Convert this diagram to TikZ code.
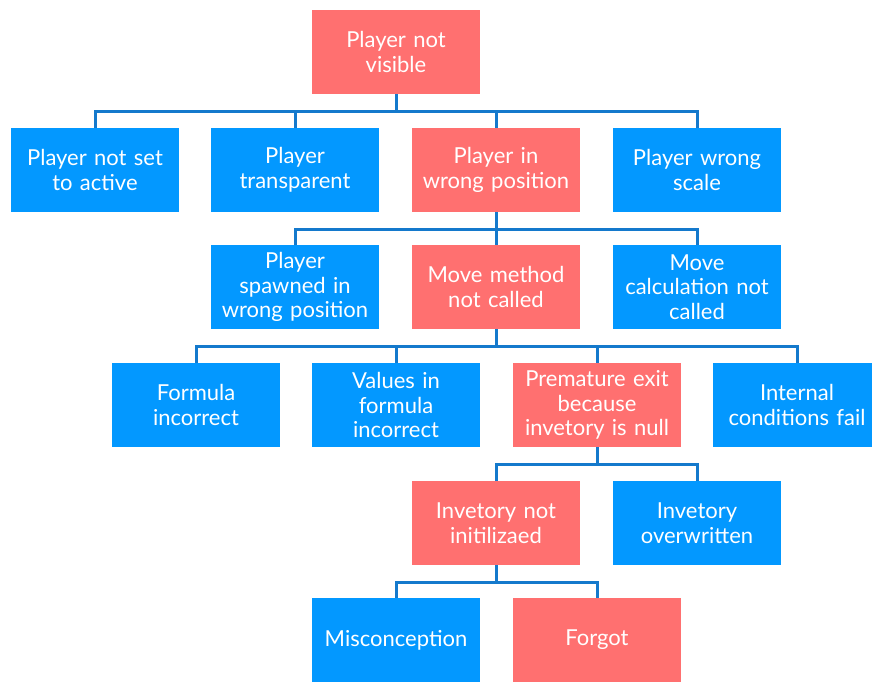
\documentclass[tikz,border=0pt]{standalone}
\usepackage{fontspec}
\setmainfont{Lato}
\definecolor{rbox}{HTML}{FF7070}
\definecolor{bbox}{HTML}{0398FF}
\definecolor{lnk}{HTML}{1479CC}
\begin{document}
\begin{tikzpicture}[x=1pt,y=-1pt,
  box/.style={minimum width=168pt,minimum height=84pt,inner sep=1pt,text width=166pt,align=center,
    font=\fontsize{22}{24.5}\selectfont,text=white},
  redbox/.style={box,fill=rbox},
  bluebox/.style={box,fill=bbox},
  link/.style={draw=lnk,line width=3pt}]
\useasboundingbox (0,0) rectangle (872,681);
\node[redbox] (a) at (396,52) {Player not\\visible};
\node[bluebox] (b1) at (95,170) {Player not set\\to active};
\node[bluebox] (b2) at (295,170) {Player\\transparent};
\node[redbox] (b3) at (496,170) {Player in\\wrong position};
\node[bluebox] (b4) at (697,170) {Player wrong\\scale};
\node[bluebox] (c1) at (295,287) {Player\\spawned in\\wrong position};
\node[redbox] (c2) at (496,287) {Move method\\not called};
\node[bluebox] (c3) at (697,287) {Move\\calculation not\\called};
\node[bluebox] (d1) at (196,405) {Formula\\incorrect};
\node[bluebox] (d2) at (396,405) {Values in\\formula\\incorrect};
\node[redbox] (d3) at (597,405) {Premature exit\\because\\invetory is null};
\node[bluebox] (d4) at (797,405) {Internal\\conditions fail};
\node[redbox] (e1) at (496,523) {Invetory not\\initilizaed};
\node[bluebox] (e2) at (697,523) {Invetory\\overwritten};
\node[bluebox] (f1) at (396,640) {Misconception};
\node[redbox] (f2) at (597,640) {Forgot};
% connectors
\draw[link] (a.south) -- ++(0,17) coordinate (ab);
\draw[link] (b1.north) |- (ab) -| (b4.north);
\draw[link] (b2.north) -- (b2.north |- ab);
\draw[link] (b3.north) -- (b3.north |- ab);
\draw[link] (b3.south) -- ++(0,17) coordinate (bc);
\draw[link] (c1.north) |- (bc) -| (c3.north);
\draw[link] (c2.north) -- (bc);
\draw[link] (c2.south) -- ++(0,17) coordinate (cd);
\draw[link] (d1.north) |- (cd) -| (d4.north);
\draw[link] (d2.north) -- (d2.north |- cd);
\draw[link] (d3.north) -- (d3.north |- cd);
\draw[link] (d3.south) -- ++(0,17) coordinate (de);
\draw[link] (e1.north) |- (de) -| (e2.north);
\draw[link] (e1.south) -- ++(0,17) coordinate (ef);
\draw[link] (f1.north) |- (ef) -| (f2.north);
\end{tikzpicture}
\end{document}
